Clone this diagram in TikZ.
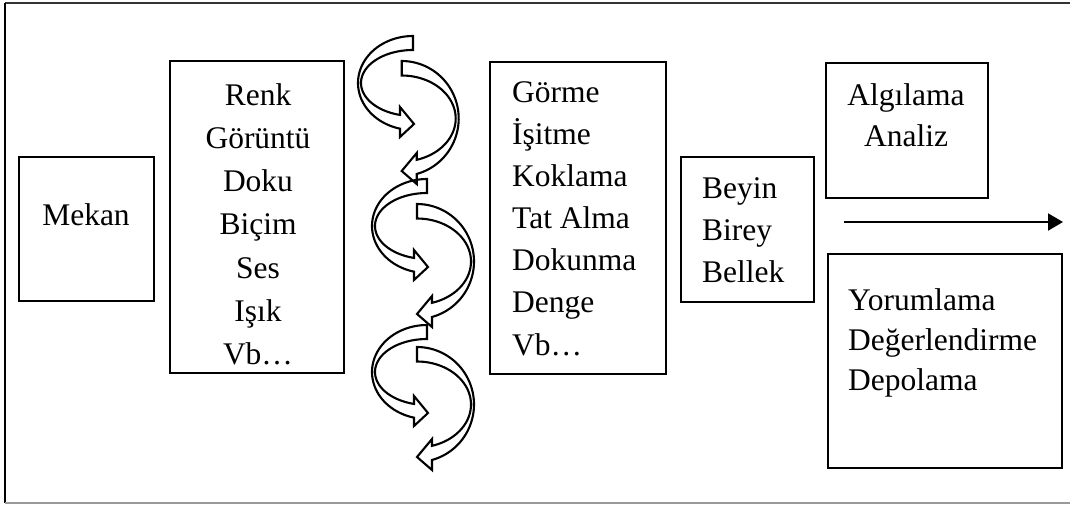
\documentclass[tikz,border=0pt]{standalone}
\usepackage{fontspec}
\setmainfont{Liberation Serif}
\usetikzlibrary{arrows.meta}
\newcommand{\crarrow}[2]{%
 \draw[carrow] plot[domain=0:166.33,samples=50] ({#1+55*cos(270-\x)},{#2+47+47*sin(270-\x)})
   -- ({#1-13},{#2+101}) -- ({#1+1},{#2+88}) -- ({#1-13},{#2+71})
   -- plot[domain=104.48:270,samples=50] ({#1+52*cos(\x)},{#2+47+33*sin(\x)}) -- cycle;}
\newcommand{\clarrow}[2]{%
 \draw[carrow] plot[domain=-90:74.74,samples=50] ({#1+57*cos(\x)},{#2+57.5+57.5*sin(\x)})
   -- ({#1+15},{#2+123}) -- ({#1},{#2+110}) -- ({#1+15},{#2+92})
   -- plot[domain=0:163.87,samples=50] ({#1+54*cos(73.87-\x)},{#2+57.5+43*sin(73.87-\x)}) -- cycle;}
\begin{document}
\begin{tikzpicture}[x=1pt,y=-1pt,
  box/.style={draw=black,line width=2.8pt,inner sep=0pt},
  txt/.style={font=\fontsize{31.5}{38}\selectfont,inner sep=0pt,anchor=base},
  txtl/.style={txt,anchor=base west},
  carrow/.style={draw=black,line width=2.1pt,line join=miter}]
\useasboundingbox (0,0) rectangle (1075,506);
% page frame
\draw[line width=2pt,black!80] (5,3) -- (1070,3);
\draw[line width=2.2pt,black] (5,3) -- (5,503);
\draw[line width=1.5pt,black!40] (5,503) -- (1070,503);
% boxes
\node[box,minimum width=135pt,minimum height=144pt] (mekan) at (86.5,229) {};
\node[box,minimum width=174pt,minimum height=312pt] (renk) at (257,217) {};
\node[box,minimum width=176pt,minimum height=312pt] (gorme) at (578,218) {};
\node[box,minimum width=133pt,minimum height=145pt] (beyin) at (747.5,229.5) {};
\node[box,minimum width=162pt,minimum height=135pt] (algi) at (907,130.5) {};
\node[box,minimum width=234pt,minimum height=214pt] (yorum) at (945,361) {};
% texts
\node[txt] (tmekan) at (86,225) {Mekan};
\foreach \s [count=\i from 0] in {Renk,Görüntü,Doku,Biçim,Ses,Işık,Vb…}
  \node[txt] (renk\i) at (258,105+43.33*\i) {\s};
\foreach \s [count=\i from 0] in {Görme,İşitme,Koklama,Tat Alma,Dokunma,Denge,Vb…}
  \node[txtl] (gorme\i) at (512,102+42.17*\i) {\s};
\foreach \s [count=\i from 0] in {Beyin,Birey,Bellek}
  \node[txtl] (beyin\i) at (702,198+42*\i) {\s};
\foreach \s [count=\i from 0] in {Algılama,Analiz}
  \node[txt] (algi\i) at (906,105+41*\i) {\s};
\foreach \s [count=\i from 0] in {Yorumlama,Değerlendirme,Depolama}
  \node[txtl] (yorum\i) at (848,310+40*\i) {\s};
% curved arrows
\crarrow{413}{36}
\clarrow{401.7}{61}
\crarrow{427}{179}
\clarrow{417}{204}
\crarrow{427}{325}
\clarrow{417}{347}
% straight arrow
\coordinate (a1) at (844,222);
\coordinate (a2) at (1063,222);
\draw[line width=2pt,-{Triangle[length=15pt,width=17pt]}] (a1) -- (a2);
\end{tikzpicture}
\end{document}
